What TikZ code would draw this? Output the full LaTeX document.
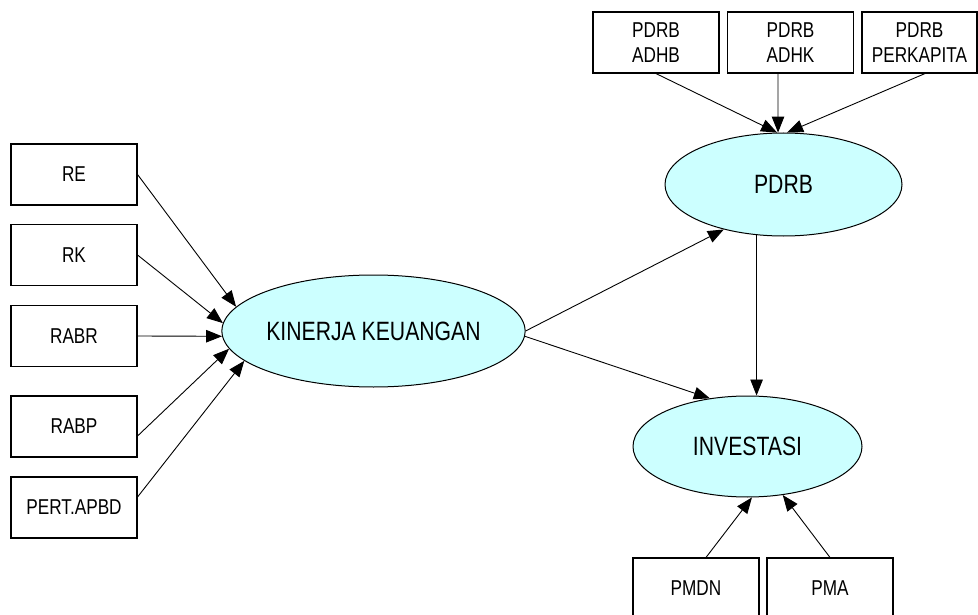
\documentclass[tikz,border=0pt]{standalone}
\usepackage{fontspec}
\setmainfont{Liberation Sans}[FakeStretch=0.8]
\usetikzlibrary{shapes.geometric,arrows.meta}
\definecolor{cyanfill}{HTML}{CCFFFF}
\begin{document}
\begin{tikzpicture}[x=1pt,y=-1pt,
  box/.style={draw,line width=1.1pt,minimum width=126pt,minimum height=61pt,inner sep=0pt,
    font=\fontsize{21.5}{25}\selectfont,align=center},
  oval/.style={ellipse,draw,line width=1pt,fill=cyanfill,inner sep=0pt,
    font=\fontsize{26.5}{30}\selectfont},
  arr/.style={-{Triangle[length=16pt,width=12.5pt]},line width=0.9pt}]
\useasboundingbox (0,0) rectangle (978,615);
% left boxes
\node[box] (re) at (74,174.5) {RE};
\node[box] (rk) at (74,255) {RK};
\node[box] (rabr) at (74,336) {RABR};
\node[box] (rabp) at (74,426.5) {RABP};
\node[box] (pert) at (74,507.5) {PERT.APBD};
% ellipses
\node[oval,minimum width=283pt,minimum height=112pt] (kin) at (373.5,331) {KINERJA KEUANGAN};
\node[oval,minimum width=237pt,minimum height=103pt] (pdrb) at (783.5,184.5) {PDRB};
\node[oval,minimum width=229pt,minimum height=101pt] (inv) at (747.5,446.5) {INVESTASI};
% top boxes
\node[box] (adhb) at (656,42.5) {PDRB\\ADHB};
\node[box] (adhk) at (790.5,42.5) {PDRB\\ADHK};
\node[box,minimum width=115pt] (perk) at (919.5,42.5) {PDRB\\PERKAPITA};
% bottom boxes
\node[box] (pmdn) at (696,588.5) {PMDN};
\node[box] (pma) at (830,588.5) {PMA};
% arrows
\draw[arr] (re.east) -- (kin.170);
\draw[arr] (rk.east) -- (kin.177);
\draw[arr] (rabr.east) -- (kin.182);
\draw[arr] ([yshift=-9.5pt]rabp.east) -- (kin.187);
\draw[arr] ([yshift=10.5pt]pert.east) -- (kin.193);
\draw[arr] (kin.east) -- (pdrb.217);
\draw[arr] (kin.358) -- (inv.128);
\draw[arr] (pdrb.242) -- (pdrb.242 |- inv.north);
\draw[arr] (adhb.south) -- (pdrb.97);
\draw[arr] ([xshift=-12.5pt]adhk.south) -- (pdrb.96);
\draw[arr] ([xshift=5.5pt]perk.south) -- (pdrb.86);
\draw[arr] ([xshift=10pt]pmdn.north) -- (inv.275);
\draw[arr] (pma.north) -- (inv.306);
\end{tikzpicture}
\end{document}
